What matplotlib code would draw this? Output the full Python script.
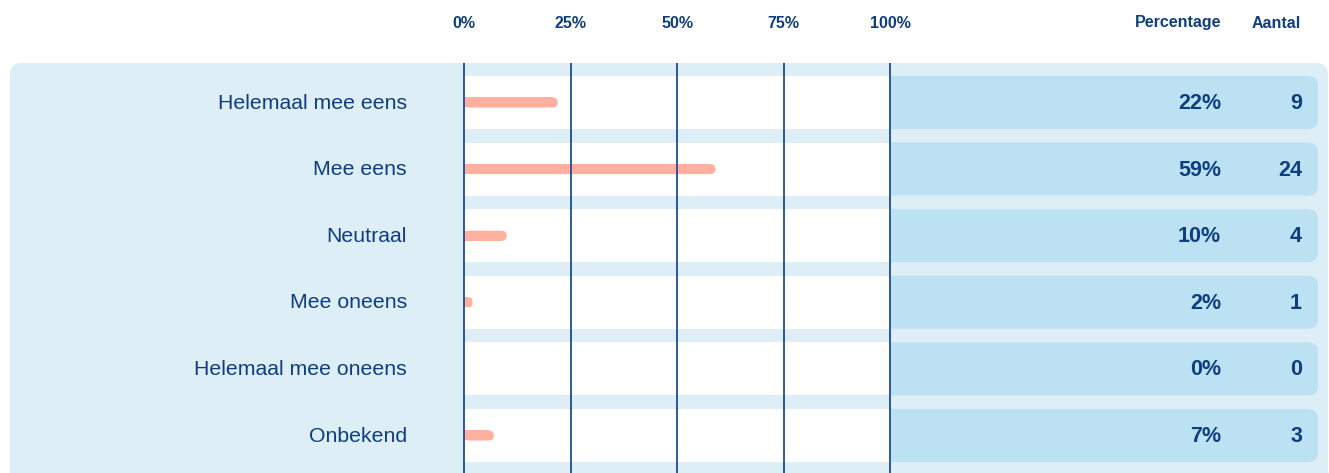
import matplotlib
matplotlib.use("Agg")
import matplotlib.pyplot as plt
from matplotlib.patches import FancyBboxPatch, Rectangle

# ---- data ----
categories = ["Helemaal mee eens", "Mee eens", "Neutraal", "Mee oneens",
              "Helemaal mee oneens", "Onbekend"]
percentages = [22, 59, 10, 2, 0, 7]
counts = [9, 24, 4, 1, 0, 3]
tick_values = [0, 25, 50, 75, 100]
tick_labels = ["0%", "25%", "50%", "75%", "100%"]
header_pct = "Percentage"
header_cnt = "Aantal"

# ---- style ----
TEXT = "#0F3E80"
GRID = "#1C4C96"
PANEL = "#DDEEF7"
BOX = "#BBE1F2"
BAR = "#FFB09E"
FONT = "Liberation Sans"

W, H = 1329, 473
fig = plt.figure(figsize=(W / 100, H / 100), dpi=100)
ax = fig.add_axes([0, 0, 1, 1])
ax.set_axis_off()

# pixel layout -> data coordinates (x: percent, y: row index)
X0, XSCALE = 464.0, 4.26          # px of 0%, px per percent
Y0, YSCALE = 102.5, 66.6          # px of first row center, px per row
def px2x(p): return (p - X0) / XSCALE
def py2y(p): return (p - Y0) / YSCALE

ax.set_xlim(px2x(0), px2x(W))
ax.set_ylim(py2y(H), py2y(0))
aspect = XSCALE / YSCALE

n = len(categories)
rows = list(range(n))

# background panel
r_panel = 12 / XSCALE
ax.add_patch(FancyBboxPatch((px2x(10), py2y(63)), px2x(1328) - px2x(10),
                            py2y(490) - py2y(63),
                            boxstyle=f"round,pad=0,rounding_size={r_panel}",
                            mutation_aspect=aspect, fc=PANEL, ec="none", zorder=0))

half_row = 26.5 / YSCALE
r_box = 10 / XSCALE
for i in rows:
    # right value box
    ax.add_patch(FancyBboxPatch((px2x(875), i - half_row), px2x(1318) - px2x(875),
                                2 * half_row,
                                boxstyle=f"round,pad=0,rounding_size={r_box}",
                                mutation_aspect=aspect, fc=BOX, ec="none", zorder=1))
    # white plotting row
    ax.add_patch(Rectangle((0, i - half_row), 100, 2 * half_row,
                           fc="white", ec="none", zorder=2))

# bars
bar_h = 10 / YSCALE
r_bar = 5 / XSCALE
for i, v in zip(rows, percentages):
    if v <= 0:
        continue
    r = min(r_bar, v / 2)
    ax.barh(i, max(v - r, 0), left=0, height=bar_h, color=BAR, zorder=3)
    ax.add_patch(FancyBboxPatch((0, i - bar_h / 2), v, bar_h,
                                boxstyle=f"round,pad=0,rounding_size={r}",
                                mutation_aspect=aspect, fc=BAR, ec="none", zorder=3))

# grid lines
for t in tick_values:
    ax.plot([t, t], [py2y(63), py2y(H + 5)], color=GRID, lw=1.3, zorder=4,
            solid_capstyle="butt")

# tick labels
for t, lab in zip(tick_values, tick_labels):
    ax.text(t, py2y(23), lab, ha="center", va="center", fontsize=11.5,
            fontweight="bold", color=TEXT, family=FONT)

ax.text(px2x(1221), py2y(23), header_pct, ha="right", va="center", fontsize=11.5,
        fontweight="bold", color=TEXT, family=FONT)
ax.text(px2x(1301), py2y(23), header_cnt, ha="right", va="center", fontsize=11.5,
        fontweight="bold", color=TEXT, family=FONT)

for i, cat, p, c in zip(rows, categories, percentages, counts):
    ax.text(px2x(407), i + 0.01, cat, ha="right", va="center", fontsize=15.3,
            color=TEXT, family=FONT, zorder=5)
    ax.text(px2x(1221), i + 0.015, f"{p}%", ha="right", va="center", fontsize=15.5,
            fontweight="bold", color=TEXT, family=FONT, zorder=5)
    ax.text(px2x(1302), i + 0.015, f"{c}", ha="right", va="center", fontsize=15.5,
            fontweight="bold", color=TEXT, family=FONT, zorder=5)

fig.savefig("out.png", dpi=100)
